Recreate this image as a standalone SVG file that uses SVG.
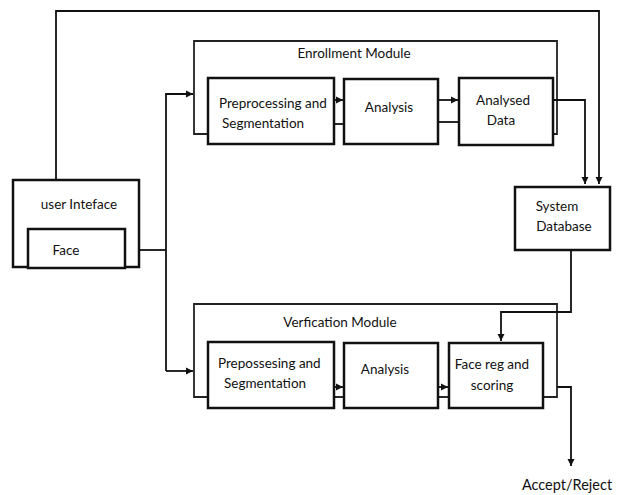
<svg xmlns="http://www.w3.org/2000/svg" width="617" height="495" viewBox="0 0 617 495">
<style>
.box{fill:#fff;stroke:#111;stroke-width:2.5}
.frame{fill:none;stroke:#222;stroke-width:1.8}
.ln{fill:none;stroke:#111;stroke-width:1.8}
text{font-family:Lato,"Liberation Sans",sans-serif;font-size:13.5px;fill:#111}
.c{text-anchor:middle}
</style>
<defs>
<marker id="ah" viewBox="0 0 10 10" refX="10" refY="5" markerWidth="4" markerHeight="4" orient="auto"><path d="M0,0 L10,5 L0,10 z" fill="#111"/></marker>
</defs>
<rect width="617" height="495" fill="#fff"/>
<g id="enrollment-module">
<path class="frame" d="M208,134 H194 V41 H557 V134 H553"/>
<text class="c" x="354" y="58">Enrollment Module</text>
</g>
<g id="verification-module">
<path class="frame" d="M208,397 H194 V304 H557 V397 H543"/>
<text class="c" x="340" y="327">Verfication Module</text>
</g>
<g id="connectors">
<path class="ln" d="M56,180 V11 H599 V184" marker-end="url(#ah)"/>
<path class="ln" d="M553,100 H585 V184" marker-end="url(#ah)"/>
<path class="ln" d="M139,250 H166"/>
<path class="ln" d="M166,371 V94 H193" marker-end="url(#ah)"/>
<path class="ln" d="M166,371 H193" marker-end="url(#ah)"/>
<path class="ln" d="M334,100 H343" marker-end="url(#ah)"/>
<path class="ln" d="M334,124 H344"/>
<path class="ln" d="M438,100 H458" marker-end="url(#ah)"/>
<path class="ln" d="M438,122 H459"/>
<path class="ln" d="M334,387 H343" marker-end="url(#ah)"/>
<path class="ln" d="M334,397 H344"/>
<path class="ln" d="M438,387 H448" marker-end="url(#ah)"/>
<path class="ln" d="M438,397 H449"/>
<path class="ln" d="M571,250 V312 H501 V341" marker-end="url(#ah)"/>
<path class="ln" d="M557,387 H571 V466" marker-end="url(#ah)"/>
</g>
<g id="user-interface">
<rect class="box" x="13" y="180" width="126" height="87"/>
<text class="c" x="79" y="209">user Inteface</text>
</g>
<g id="face">
<rect class="box" x="28" y="229" width="97" height="39"/>
<text class="c" x="66" y="255">Face</text>
</g>
<g id="enroll-preprocessing">
<rect class="box" x="208" y="78" width="126" height="66"/>
<text x="219" y="108">Preprocessing and</text>
<text x="222" y="128">Segmentation</text>
</g>
<g id="enroll-analysis">
<rect class="box" x="344" y="79" width="94" height="65"/>
<text class="c" x="389" y="112">Analysis</text>
</g>
<g id="analysed-data">
<rect class="box" x="459" y="78" width="94" height="67"/>
<text class="c" x="503" y="105">Analysed</text>
<text class="c" x="501" y="125">Data</text>
</g>
<g id="system-database">
<rect class="box" x="515" y="187" width="95" height="63"/>
<text class="c" x="557" y="211">System</text>
<text class="c" x="564" y="231">Database</text>
</g>
<g id="verify-preprocessing">
<rect class="box" x="208" y="342" width="126" height="66"/>
<text x="218" y="368">Prepossesing and</text>
<text x="224" y="388">Segmentation</text>
</g>
<g id="verify-analysis">
<rect class="box" x="344" y="343" width="94" height="65"/>
<text class="c" x="385" y="374">Analysis</text>
</g>
<g id="face-reg">
<rect class="box" x="449" y="343" width="94" height="65"/>
<text class="c" x="492" y="369">Face reg and</text>
<text class="c" x="492" y="390">scoring</text>
</g>
<g id="accept-reject">
<text class="c" x="567" y="490" style="font-size:14.5px">Accept/Reject</text>
</g>
</svg>
